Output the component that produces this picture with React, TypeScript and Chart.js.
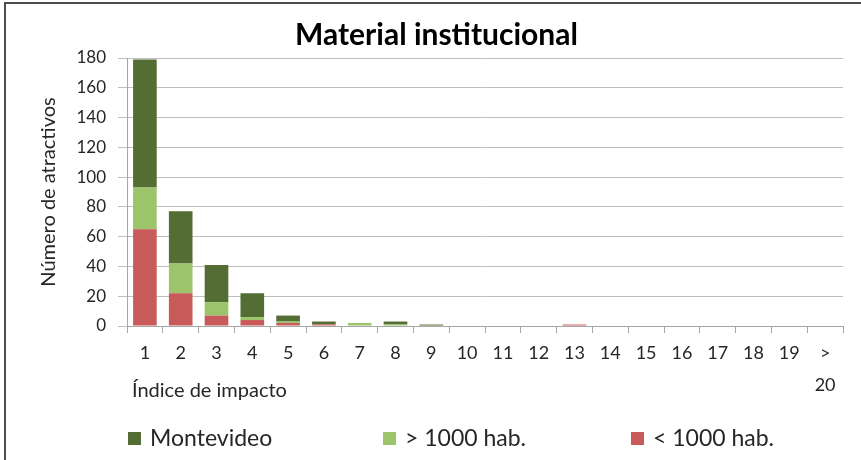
import React, { useEffect, useRef } from "react";
import { Chart, registerables } from "chart.js";

Chart.register(...registerables);

const categories: (string | string[])[] = [
  "1", "2", "3", "4", "5", "6", "7", "8", "9", "10",
  "11", "12", "13", "14", "15", "16", "17", "18", "19", [">", "20"],
];
const menos1000 = [65, 22, 7, 4, 2, 1, 0, 0, 0, 0, 0, 0, 1, 0, 0, 0, 0, 0, 0, 0];
const mas1000 = [28, 20, 9, 2, 1, 0, 2, 1, 0, 0, 0, 0, 0, 0, 0, 0, 0, 0, 0, 0];
const montevideo = [86, 35, 25, 16, 4, 2, 0, 2, 1, 0, 0, 0, 0, 0, 0, 0, 0, 0, 0, 0];
const yTicks = [0, 20, 40, 60, 80, 100, 120, 140, 160, 180];

const FONT = "Lato, 'Open Sans', sans-serif";
const C_DARK = "#546d32";
const C_LIGHT = "#9cc46a";
const C_RED = "#c85b59";

const framePlugin = {
  id: "frame",
  beforeDraw(chart: any) {
    const ctx = chart.ctx;
    ctx.save();
    ctx.fillStyle = "#ffffff";
    ctx.fillRect(0, 0, chart.width, chart.height);
    ctx.strokeStyle = "#4d4d4d";
    ctx.lineWidth = 2;
    ctx.beginPath();
    ctx.moveTo(5, chart.height + 2);
    ctx.lineTo(5, 3);
    ctx.lineTo(chart.width + 2, 3);
    ctx.stroke();
    ctx.restore();
  },
};

const extrasPlugin = {
  id: "extras",
  afterDraw(chart: any) {
    const ctx = chart.ctx;
    const area = chart.chartArea;
    ctx.save();
    // x-axis title
    ctx.fillStyle = "#262626";
    ctx.font = `20px ${FONT}`;
    ctx.textBaseline = "middle";
    ctx.textAlign = "left";
    ctx.fillText("Índice de impacto", area.left + 5, area.bottom + 65);
    // legend
    const order = [2, 1, 0];
    const offsets = [1, 256, 504];
    ctx.font = `23px ${FONT}`;
    order.forEach((di, i) => {
      const ds = chart.data.datasets[di];
      const x = area.left + offsets[i];
      const y = 438;
      ctx.fillStyle = ds.backgroundColor;
      ctx.fillRect(x, y - 6, 13, 13);
      ctx.fillStyle = "#262626";
      ctx.fillText(ds.label, x + 22, y + 1);
    });
    ctx.restore();
  },
};

export default function App() {
  const ref = useRef<HTMLCanvasElement>(null);
  useEffect(() => {
    if (!ref.current) return;
    const chart = new Chart(ref.current, {
      type: "bar",
      data: {
        labels: categories,
        datasets: [
          { label: "< 1000 hab.", data: menos1000, backgroundColor: C_RED },
          { label: "> 1000 hab.", data: mas1000, backgroundColor: C_LIGHT },
          { label: "Montevideo", data: montevideo, backgroundColor: C_DARK },
        ],
      },
      options: {
        animation: false,
        responsive: false,
        maintainAspectRatio: false,
        layout: { padding: { left: 30, right: 18, top: 0, bottom: 59 } },
        datasets: { bar: { barPercentage: 0.66, categoryPercentage: 1 } },
        plugins: {
          legend: { display: false },
          tooltip: { enabled: false },
          title: {
            display: true,
            text: "Material institucional",
            color: "#000",
            font: { family: FONT, size: 30, weight: "bold" },
            padding: { top: 17, bottom: 5 },
          },
        },
        scales: {
          x: {
            stacked: true,
            afterFit: (s: any) => {
              s.height = 75;
            },
            grid: {
              offset: true,
              drawOnChartArea: false,
              drawTicks: true,
              tickLength: 7,
              color: "#a6a6a6",
            },
            border: { color: "#a6a6a6" },
            ticks: {
              color: "#262626",
              font: { family: FONT, size: 18, lineHeight: 1.8 },
              maxRotation: 0,
              autoSkip: false,
              padding: 4,
            },
          },
          y: {
            stacked: true,
            min: 0,
            max: 180,
            afterFit: (s: any) => {
              s.width = 97;
            },
            afterBuildTicks: (axis: any) => {
              axis.ticks = yTicks.map((v) => ({ value: v }));
            },
            grid: { color: "#bfbfbf", tickLength: 9, drawTicks: true },
            border: { color: "#a6a6a6" },
            ticks: {
              color: "#262626",
              font: { family: FONT, size: 17 },
              padding: 12,
            },
            title: {
              display: true,
              text: "Número de atractivos",
              color: "#262626",
              font: { family: FONT, size: 20 },
              padding: { top: 7, bottom: 0 },
            },
          },
        },
      },
      plugins: [framePlugin, extrasPlugin],
    });
    return () => chart.destroy();
  }, []);
  return (
    <div style={{ position: "absolute", left: 0, top: 0, width: 861, height: 460 }}>
      <canvas ref={ref} width={861} height={460} style={{ display: "block" }} />
    </div>
  );
}
